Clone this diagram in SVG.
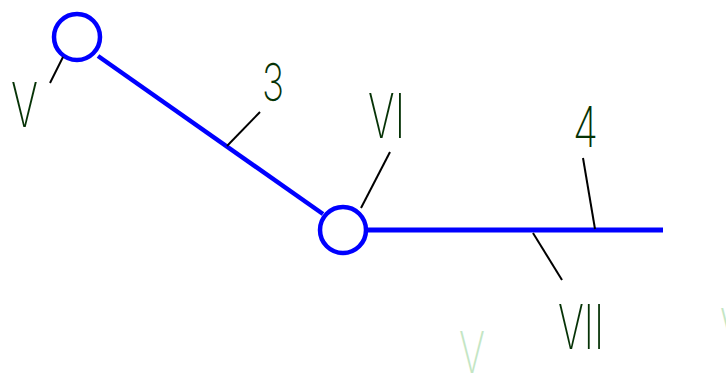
<svg xmlns="http://www.w3.org/2000/svg" width="726" height="376" viewBox="0 0 726 376">
<style>
.pipe{stroke:#0000ff;fill:none;stroke-linecap:butt}
.lead{stroke:#000;stroke-width:2;fill:none}
.lbl{font-family:Inter,"DejaVu Sans",sans-serif;font-weight:200;fill:#063306}
.ghost{font-family:Inter,"DejaVu Sans",sans-serif;font-weight:200;fill:#c4e6c4}
</style>
<rect width="726" height="376" fill="#fff"/>
<g id="connectors">
<line class="pipe" x1="98" y1="56" x2="323" y2="214" stroke-width="4.5"/>
<line class="pipe" x1="368" y1="230" x2="663" y2="230" stroke-width="5"/>
<line class="lead" x1="227" y1="146" x2="260" y2="112"/>
<line class="lead" x1="595" y1="229" x2="583" y2="158"/>
<line class="lead" x1="533" y1="233" x2="562" y2="280"/>
<text class="lbl" x="262" y="101" font-size="52" textLength="22" lengthAdjust="spacingAndGlyphs">3</text>
<text class="lbl" x="573" y="147" font-size="56" textLength="25" lengthAdjust="spacingAndGlyphs">4</text>
<text class="lbl" x="558" y="349" font-size="62" textLength="46" lengthAdjust="spacingAndGlyphs">VII</text>
</g>
<g id="nodeV">
<circle class="pipe" cx="77" cy="37" r="23" stroke-width="4.5"/>
<line class="lead" x1="63" y1="57" x2="50" y2="83"/>
<text class="lbl" x="11" y="127" font-size="62" textLength="27" lengthAdjust="spacingAndGlyphs">V</text>
</g>
<g id="nodeVI">
<circle class="pipe" cx="343" cy="230" r="23" stroke-width="4.5"/>
<line class="lead" x1="361" y1="208" x2="390" y2="152"/>
<text class="lbl" x="368" y="138" font-size="62" textLength="37" lengthAdjust="spacingAndGlyphs">VI</text>
</g>
<text class="ghost" x="459" y="373" font-size="58" textLength="26" lengthAdjust="spacingAndGlyphs">V</text>
<text class="ghost" x="720" y="350" font-size="58" textLength="26" lengthAdjust="spacingAndGlyphs">V</text>
</svg>
